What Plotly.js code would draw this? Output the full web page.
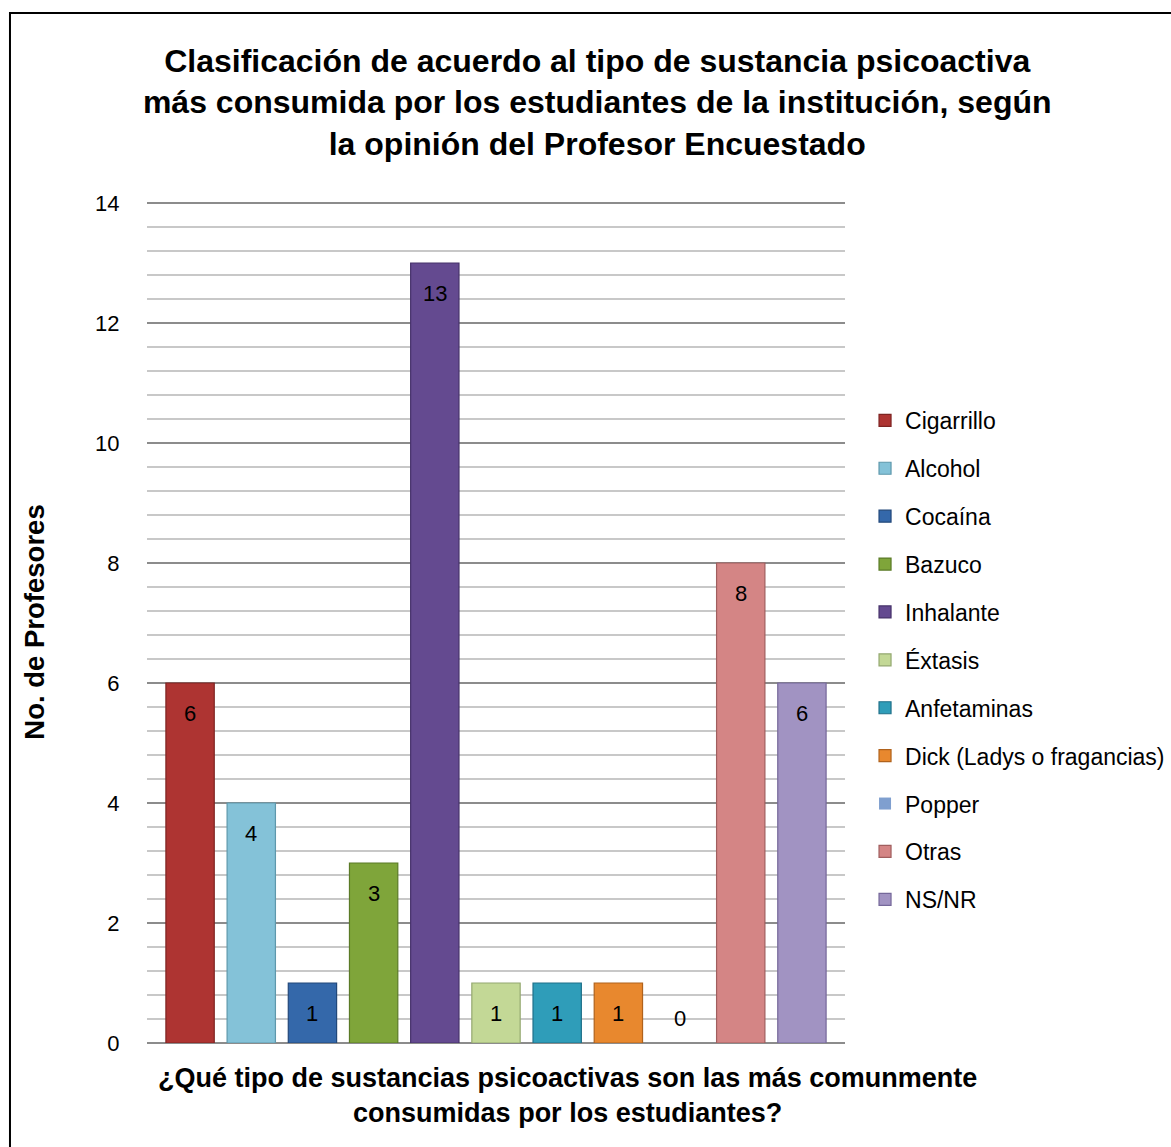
<!DOCTYPE html>
<html>
<head>
<meta charset="utf-8">
<script src="https://cdn.plot.ly/plotly-3.0.1.min.js"></script>
<style>
  html, body { margin: 0; padding: 0; background: #ffffff; }
  #chart { width: 1171px; height: 1147px; }
</style>
</head>
<body>
<div id="chart"></div>
<script>
// ---- Data ----
const categories = ["Cigarrillo", "Alcohol", "Cocaína", "Bazuco", "Inhalante", "Éxtasis",
                    "Anfetaminas", "Dick (Ladys o fragancias)", "Popper", "Otras", "NS/NR"];
const values = [6, 4, 1, 3, 13, 1, 1, 1, 0, 8, 6];
const colors = ["#AE3432", "#84C2D8", "#3468AA", "#7FA53A", "#644A90", "#C3D896",
                "#2F9DB9", "#E8882E", "#7F9FCF", "#D48585", "#A193C2"];
const edgeColors = ["#7E2422", "#5E98AC", "#22487A", "#5A7A26", "#46326A", "#94A870",
                    "#1F7089", "#B0621C", "#5A76A0", "#A05E5E", "#75689A"];
const yTicks = [0, 2, 4, 6, 8, 10, 12, 14];

const titleText = "Clasificación de acuerdo al tipo de sustancia psicoactiva<br>" +
                  "más consumida por los estudiantes de la institución, según<br>" +
                  "la opinión del Profesor Encuestado";
const xTitleText = "¿Qué tipo de sustancias psicoactivas son las más comunmente<br>" +
                   "consumidas por los estudiantes?";
const yTitleText = "No. de Profesores";

const FONT = "Liberation Sans, Arial, sans-serif";

// ---- Traces: one bar per category (each its own legend entry) ----
const traces = categories.map((c, i) => ({
  type: "bar",
  name: c,
  x: [i],
  y: [values[i]],
  width: 0.79,
  legendgroup: "g" + i,
  marker: {
    color: colors[i],
    line: { color: edgeColors[i], width: values[i] > 0 ? 1.2 : 0 }
  },
  hoverinfo: "name+y"
}));

// ---- Data labels ----
const labelAnnots = values.map((v, i) => ({
  x: i, y: v, xref: "x", yref: "y",
  text: String(v),
  showarrow: false,
  yshift: v > 0 ? -30 : 25,
  font: { family: FONT, size: 22, color: "#000000" }
}));

// ---- X axis title (centred under the chart, as in the reference) ----
const xTitleAnnot = {
  text: xTitleText,
  xref: "paper", yref: "paper",
  x: 0.603, xanchor: "center",
  y: -0.0216, yanchor: "top",
  showarrow: false,
  font: { family: FONT, size: 27, color: "#000000", weight: "bold" }
};

const layout = {
  width: 1171,
  height: 1147,
  paper_bgcolor: "#ffffff",
  plot_bgcolor: "#ffffff",
  margin: { l: 147, r: 326, t: 201, b: 104, autoexpand: false },
  barmode: "overlay",
  title: {
    text: titleText,
    x: 0.51, xanchor: "center", xref: "container",
    y: 0.9376, yanchor: "middle", yref: "container",
    font: { family: FONT, size: 32, color: "#000000", weight: "bold" }
  },
  xaxis: {
    range: [-0.704, 10.704],
    showticklabels: false,
    showgrid: false,
    zeroline: false,
    showline: false,
    ticks: "",
    fixedrange: true
  },
  yaxis: {
    range: [0, 14.0333],
    tickvals: yTicks,
    ticktext: yTicks.map(String),
    showgrid: true,
    gridcolor: "#8C8C8C",
    gridwidth: 1.3,
    zeroline: true,
    zerolinecolor: "#8C8C8C",
    zerolinewidth: 1.3,
    showline: false,
    ticks: "outside",
    ticklen: 22,
    tickcolor: "rgba(0,0,0,0)",
    tickfont: { family: FONT, size: 22, color: "#000000" },
    minor: { dtick: 0.4, showgrid: true, gridcolor: "#C8C8C8", gridwidth: 1.3, ticks: "" },
    fixedrange: true,
    title: {
      text: yTitleText,
      standoff: 42,
      font: { family: FONT, size: 27.5, color: "#000000", weight: "bold" }
    }
  },
  showlegend: true,
  legend: {
    x: 1.0287, xanchor: "left",
    y: 0.455, yanchor: "middle",
    traceorder: "grouped",
    tracegroupgap: 15,
    bgcolor: "rgba(0,0,0,0)",
    borderwidth: 0,
    font: { family: FONT, size: 23, color: "#000000" }
  },
  annotations: labelAnnots.concat([xTitleAnnot]),
  shapes: [{
    type: "rect", xref: "paper", yref: "paper",
    x0: -0.1963, x1: 2.0, y0: -1.0, y1: 1.2233,
    line: { color: "#000000", width: 2 },
    fillcolor: "rgba(0,0,0,0)",
    layer: "above"
  }]
};

Plotly.newPlot("chart", traces, layout, { displayModeBar: false, staticPlot: true });
</script>
</body>
</html>
